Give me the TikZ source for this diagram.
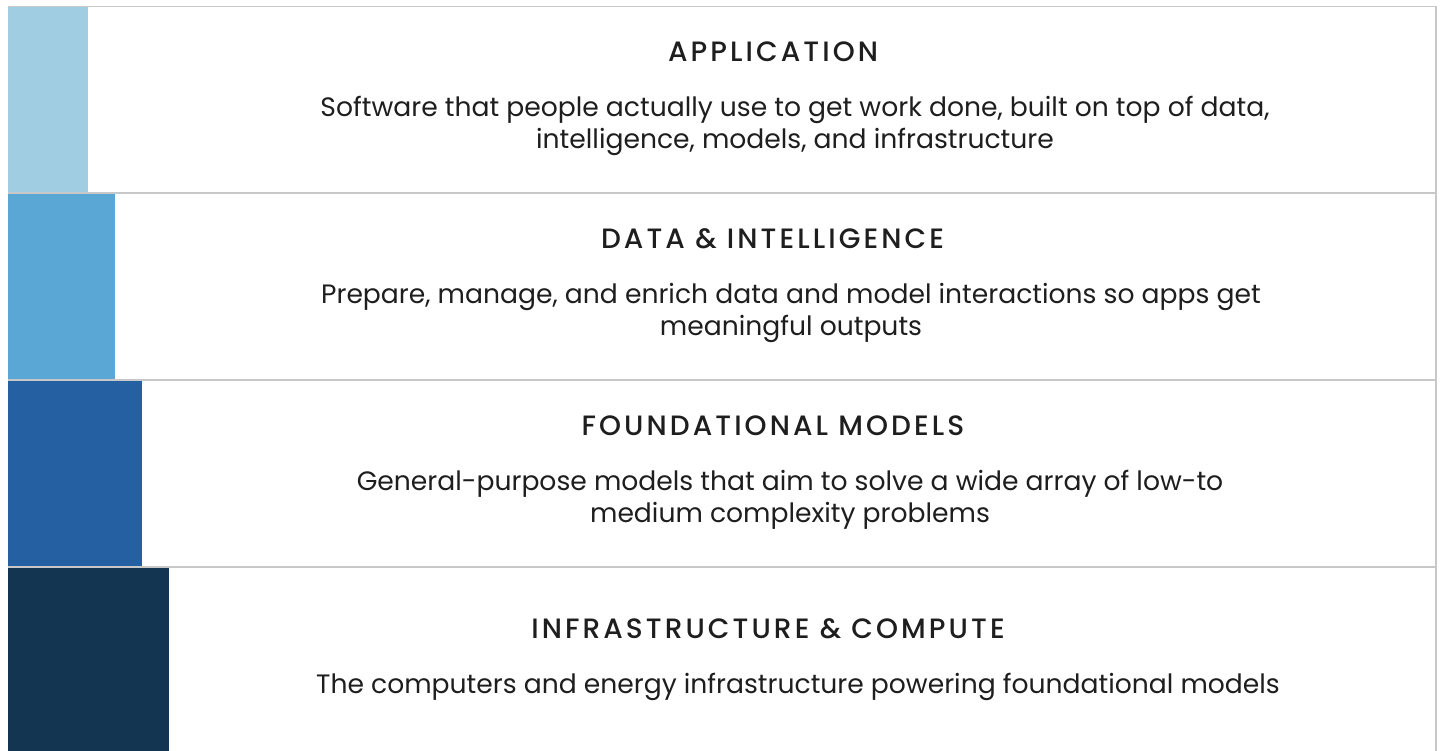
\documentclass[tikz,border=0pt]{standalone}
\usepackage{fontspec}
\setmainfont{Poppins}
\newfontfamily\capsfont[LetterSpace=11, UprightFont=* Medium]{Poppins}
\usetikzlibrary{positioning}
\definecolor{rulegray}{HTML}{C8C8C8}
\definecolor{inkgray}{HTML}{1E1E1E}
\definecolor{applight}{HTML}{A1CDE2}
\definecolor{datablue}{HTML}{5AA7D5}
\definecolor{modelblue}{HTML}{2460A2}
\definecolor{infranavy}{HTML}{143552}
\tikzstyle{layer} = [rectangle, draw=rulegray, line width=1.5pt, minimum width=1427pt, anchor=north west, inner sep=0pt]
\tikzstyle{bar} = [rectangle, anchor=north west, inner sep=0pt, outer sep=0pt]
\tikzstyle{heading} = [text=inkgray, font=\capsfont\fontsize{28}{30}\selectfont, inner sep=0pt]
\tikzstyle{blurb} = [text=inkgray, font=\fontsize{26.6}{32}\selectfont, align=center, inner sep=0pt]

\begin{document}
\begin{tikzpicture}[x=1pt, y=-1pt]
\fill[white] (0,0) rectangle (1440,751);
\useasboundingbox (0,0) rectangle (1440,751);
\clip (0,0) rectangle (1440,751);
% the four layers, top to bottom
\node (app) [layer, minimum height=186.5pt] at (8,6) {};
\node (data) [layer, minimum height=186.5pt] at (8,192.5) {};
\node (model) [layer, minimum height=187pt] at (8,379) {};
\node (infra) [layer, minimum height=195pt] at (8,566) {};
% coloured bars
\node (appbar) [bar, fill=applight, minimum width=80pt, minimum height=185pt] at (8,7) {};
\node (databar) [bar, fill=datablue, minimum width=107pt, minimum height=185pt] at (8,194) {};
\node (modelbar) [bar, fill=modelblue, minimum width=134pt, minimum height=185pt] at (8,381) {};
\node (infrabar) [bar, fill=infranavy, minimum width=161pt, minimum height=190pt] at (8,568) {};
% titles and texts
\node (apptitle) [heading] at (773,52) {APPLICATION};
\node (apptext) [blurb, below=34pt of apptitle, xshift=22pt] {Software that people actually use to get work done, built on top of data,\\intelligence, models, and infrastructure};
\node (datatitle) [heading] at (772.5,239) {DATA \& INTELLIGENCE};
\node (datatext) [blurb, below=34pt of datatitle, xshift=18.5pt] {Prepare, manage, and enrich data and model interactions so apps get\\meaningful outputs};
\node (modeltitle) [heading] at (773,426) {FOUNDATIONAL MODELS};
\node (modeltext) [blurb, below=34pt of modeltitle, xshift=17pt] {General-purpose models that aim to solve a wide array of low-to\\medium complexity problems};
\node (infratitle) [heading] at (768,629) {INFRASTRUCTURE \& COMPUTE};
\node (infratext) [blurb, below=34pt of infratitle, xshift=30pt] {The computers and energy infrastructure powering foundational models};
\end{tikzpicture}
\end{document}
